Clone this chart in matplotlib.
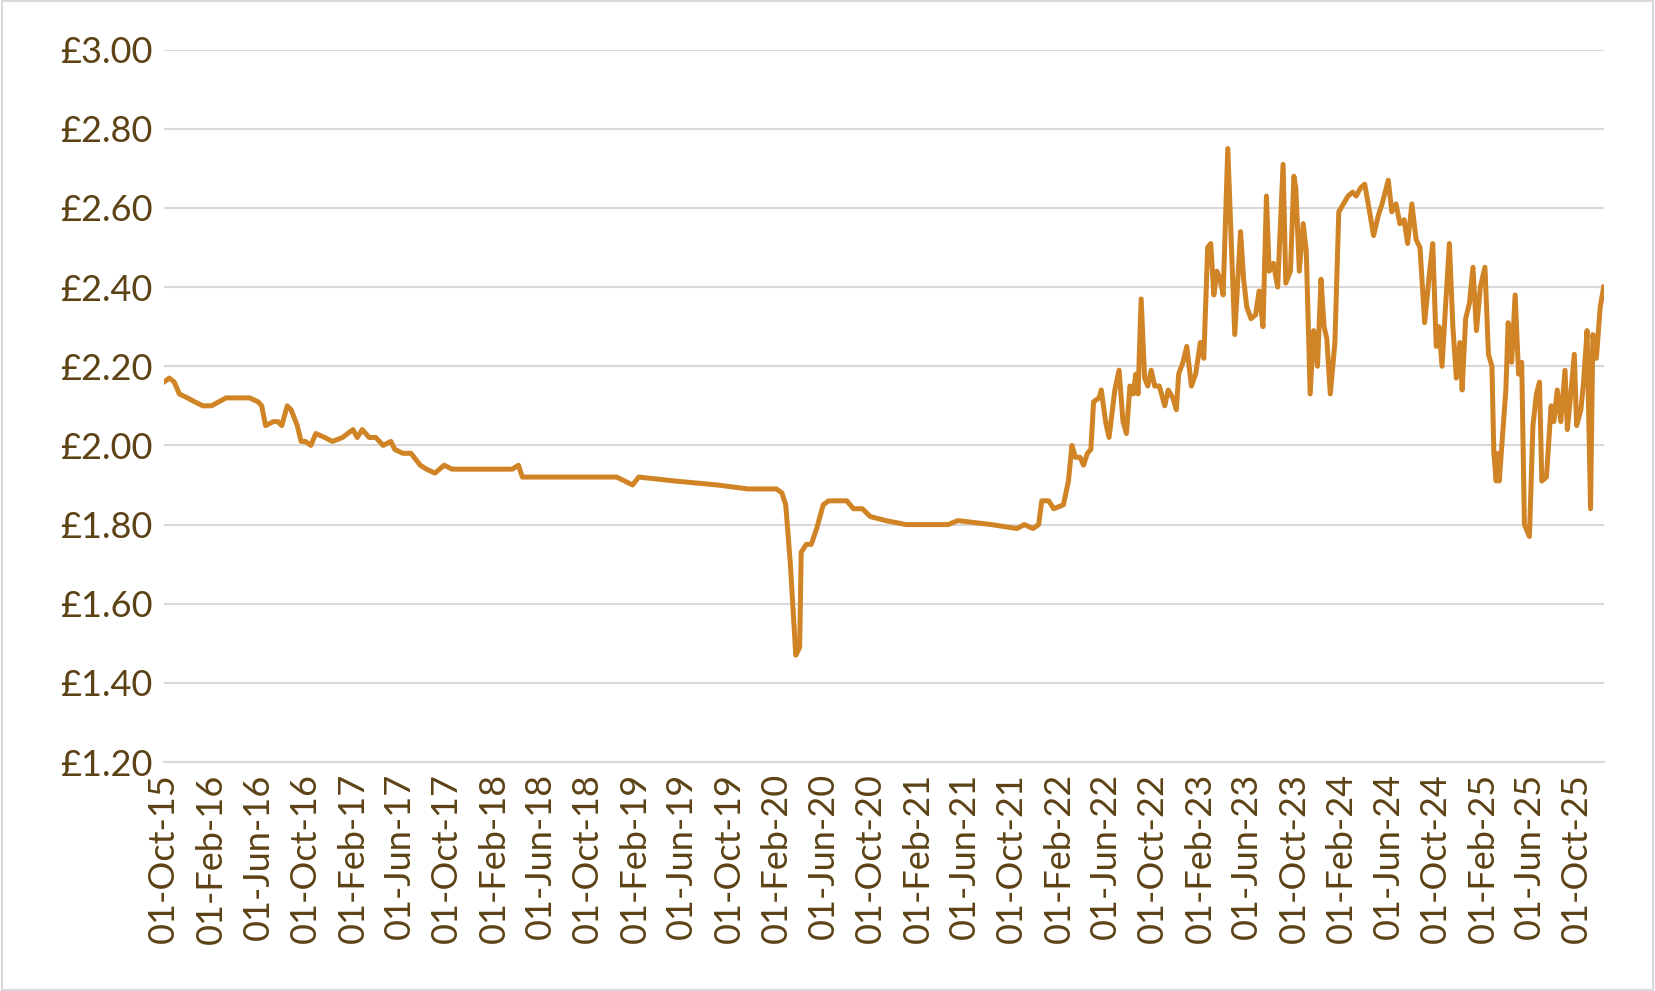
import matplotlib
matplotlib.use("Agg")
import matplotlib.pyplot as plt
import pandas as pd

dates = ["2015-10-01","2015-10-15","2015-10-28","2015-11-10","2015-12-01","2015-12-20","2016-01-10","2016-02-01","2016-02-20","2016-03-10","2016-04-10","2016-05-10","2016-06-01","2016-06-10","2016-06-20","2016-07-10","2016-07-22","2016-08-01","2016-08-15","2016-08-25","2016-09-10","2016-09-20","2016-10-01","2016-10-15","2016-10-28","2016-11-20","2016-12-10","2017-01-05","2017-02-01","2017-02-12","2017-02-25","2017-03-15","2017-04-01","2017-04-20","2017-05-10","2017-05-20","2017-06-10","2017-07-01","2017-07-25","2017-08-10","2017-09-01","2017-09-25","2017-10-15","2017-12-01","2018-01-15","2018-02-15","2018-03-20","2018-04-05","2018-04-15","2018-06-20","2018-08-15","2018-12-15","2019-01-25","2019-02-10","2019-05-15","2019-09-01","2019-11-20","2020-02-01","2020-02-15","2020-02-25","2020-03-08","2020-03-22","2020-04-01","2020-04-05","2020-04-18","2020-05-01","2020-05-15","2020-06-01","2020-06-15","2020-07-20","2020-08-01","2020-08-18","2020-09-10","2020-10-01","2020-11-10","2021-01-01","2021-04-20","2021-05-15","2021-08-10","2021-10-15","2021-11-03","2021-11-25","2021-12-10",
"2021-12-18","2022-01-05","2022-01-18","2022-02-12","2022-02-25","2022-03-06","2022-03-15","2022-03-27","2022-04-05","2022-04-15","2022-04-24","2022-05-01","2022-05-15","2022-05-21","2022-06-01","2022-06-10","2022-06-25","2022-07-06","2022-07-16","2022-07-25","2022-08-03","2022-08-12","2022-08-18","2022-08-24","2022-09-01","2022-09-10","2022-09-18","2022-09-27","2022-10-06","2022-10-18","2022-11-01","2022-11-10","2022-11-22","2022-12-01","2022-12-07","2022-12-18","2022-12-28","2023-01-09","2023-01-20","2023-02-01","2023-02-10","2023-02-20","2023-02-28","2023-03-08","2023-03-16","2023-03-24","2023-04-01","2023-04-13","2023-05-01","2023-05-16","2023-05-24","2023-06-01","2023-06-12","2023-06-24","2023-07-03","2023-07-13","2023-07-22","2023-07-29","2023-08-09","2023-08-20","2023-09-03","2023-09-10","2023-09-22","2023-10-01","2023-10-06","2023-10-15","2023-10-25","2023-11-02","2023-11-12","2023-11-21","2023-12-01","2023-12-10","2023-12-18","2023-12-25","2024-01-03","2024-01-15","2024-01-25","2024-02-06","2024-02-18","2024-03-01","2024-03-10","2024-03-21","2024-04-01","2024-04-12","2024-04-24","2024-05-06","2024-05-16","2024-06-01","2024-06-10","2024-06-21","2024-07-01","2024-07-12","2024-07-21","2024-08-01","2024-08-12","2024-08-22","2024-09-03","2024-09-15","2024-09-24","2024-10-03","2024-10-10","2024-10-18","2024-10-27","2024-11-06","2024-11-15","2024-11-24","2024-12-03","2024-12-09","2024-12-18","2024-12-28","2025-01-06","2025-01-15","2025-01-25","2025-02-06","2025-02-15","2025-02-24","2025-03-01","2025-03-07","2025-03-10","2025-03-15","2025-04-01","2025-04-07","2025-04-16","2025-04-25","2025-05-04","2025-05-12","2025-05-19","2025-06-01","2025-06-10","2025-06-19","2025-06-27","2025-07-03","2025-07-15","2025-07-27","2025-08-03","2025-08-12","2025-08-21","2025-09-01","2025-09-07","2025-09-15","2025-09-25","2025-10-01","2025-10-12","2025-10-19","2025-10-28","2025-11-06","2025-11-12","2025-11-21","2025-12-01","2025-12-10"]
prices = [2.16,2.17,2.16,2.13,2.12,2.11,2.10,2.10,2.11,2.12,2.12,2.12,2.11,2.10,2.05,2.06,2.06,2.05,2.10,2.09,2.05,2.01,2.01,2.00,2.03,2.02,2.01,2.02,2.04,2.02,2.04,2.02,2.02,2.00,2.01,1.99,1.98,1.98,1.95,1.94,1.93,1.95,1.94,1.94,1.94,1.94,1.94,1.95,1.92,1.92,1.92,1.92,1.90,1.92,1.91,1.90,1.89,1.89,1.88,1.85,1.70,1.47,1.49,1.73,1.75,1.75,1.79,1.85,1.86,1.86,1.86,1.84,1.84,1.82,1.81,1.80,1.80,1.81,1.80,1.79,1.80,1.79,1.80,
1.86,1.86,1.84,1.85,1.91,2.00,1.97,1.97,1.95,1.98,1.99,2.11,2.12,2.14,2.06,2.02,2.14,2.19,2.06,2.03,2.15,2.13,2.18,2.13,2.37,2.17,2.15,2.19,2.15,2.15,2.10,2.14,2.12,2.09,2.18,2.21,2.25,2.15,2.18,2.26,2.22,2.50,2.51,2.38,2.44,2.42,2.38,2.75,2.28,2.54,2.42,2.35,2.32,2.33,2.39,2.30,2.63,2.44,2.46,2.40,2.71,2.41,2.44,2.68,2.65,2.44,2.56,2.49,2.13,2.29,2.20,2.42,2.30,2.27,2.13,2.26,2.59,2.61,2.63,2.64,2.63,2.65,2.66,2.60,2.53,2.58,2.61,2.67,2.59,2.61,2.56,2.57,2.51,2.61,2.52,2.50,2.31,2.43,2.51,2.25,2.30,2.20,2.35,2.51,2.30,2.17,2.26,2.14,2.32,2.36,2.45,2.29,2.40,2.45,2.23,2.20,1.98,1.91,1.98,1.91,2.14,2.31,2.21,2.38,2.18,2.21,1.80,1.77,2.05,2.13,2.16,1.91,1.92,2.10,2.06,2.14,2.06,2.19,2.04,2.12,2.23,2.05,2.09,2.16,2.29,1.84,2.28,2.22,2.35,2.40]

yticks = [1.2,1.4,1.6,1.8,2.0,2.2,2.4,2.6,2.8,3.0]

plt.rcParams['font.family'] = ['Lato', 'DejaVu Sans']
txt = '#5C4214'
fig = plt.figure(figsize=(16.55, 9.91), dpi=100)
ax = fig.add_axes([0.099, 0.231, 0.870, 0.719])
x = pd.to_datetime(dates)
ax.plot(x, prices, color='#D08426', lw=3.6, solid_joinstyle='round')
ax.set_ylim(1.2, 3.0)
ax.set_yticks(yticks)
ax.set_yticklabels([f"£{v:.2f}" for v in yticks], fontsize=26, color=txt)
ax.set_xlim(pd.Timestamp("2015-10-01"), pd.Timestamp("2025-12-10"))
ticks = pd.date_range("2015-10-01", "2025-10-01", freq="4MS")
ax.set_xticks(ticks)
ax.set_xticklabels([t.strftime("%d-%b-%y") for t in ticks], rotation=90, fontsize=26, color=txt)
ax.grid(axis='y', color='#D9D9D9', lw=1.5)
ax.set_axisbelow(True)
for s in ['top', 'right', 'left']:
    ax.spines[s].set_visible(False)
ax.spines['bottom'].set_color('#D9D9D9')
ax.spines['bottom'].set_linewidth(1.5)
ax.tick_params(length=0, pad=8)
fig.patches.append(plt.Rectangle((0.001, 0.001), 0.998, 0.998, transform=fig.transFigure,
                                 fill=False, edgecolor='#D9D9D9', lw=1.5))
fig.savefig("out.png", dpi=100)
